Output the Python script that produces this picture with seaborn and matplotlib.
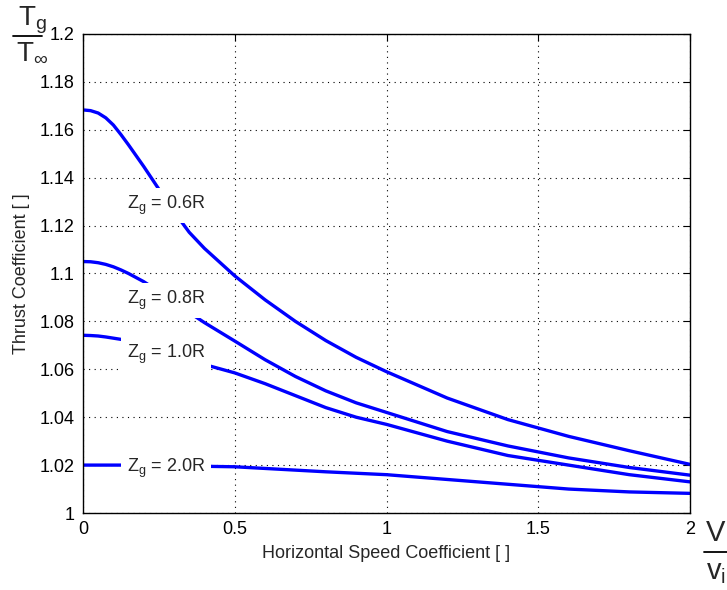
import matplotlib
matplotlib.use("Agg")
import matplotlib.pyplot as plt
import seaborn as sns
import pandas as pd
from matplotlib.lines import Line2D
from matplotlib.ticker import FuncFormatter, MultipleLocator

# ---- data ----
speed = [0, 0.025, 0.05, 0.075, 0.1, 0.125, 0.15, 0.2, 0.25, 0.3, 0.35, 0.4,
         0.5, 0.6, 0.7, 0.8, 0.9, 1.0, 1.2, 1.4, 1.6, 1.8, 2.0]
zg_06 = [1.1683, 1.1680, 1.1670, 1.1650, 1.1620, 1.1580, 1.1537, 1.1447, 1.1352,
         1.1258, 1.1172, 1.1105, 1.0990, 1.0890, 1.0800, 1.0720, 1.0650, 1.0590,
         1.0480, 1.0390, 1.0320, 1.0260, 1.0203]
zg_08 = [1.1050, 1.1049, 1.1045, 1.1038, 1.1028, 1.1015, 1.1000, 1.0966, 1.0925,
         1.0880, 1.0837, 1.0795, 1.0718, 1.0640, 1.0570, 1.0510, 1.0460, 1.0420,
         1.0340, 1.0280, 1.0230, 1.0190, 1.0158]
zg_10 = [1.0742, 1.0741, 1.0739, 1.0735, 1.0730, 1.0725, 1.0720, 1.0700, 1.0680,
         1.0660, 1.0640, 1.0620, 1.0585, 1.0540, 1.0490, 1.0440, 1.0400, 1.0370,
         1.0300, 1.0240, 1.0200, 1.0160, 1.0130]
zg_20 = [1.0200, 1.0200, 1.0200, 1.0200, 1.0200, 1.0200, 1.0200, 1.0199, 1.0198,
         1.0197, 1.0196, 1.0195, 1.0193, 1.0186, 1.0179, 1.0172, 1.0166, 1.0160,
         1.0140, 1.0120, 1.0100, 1.0088, 1.0082]
series_names = ["0.6R", "0.8R", "1.0R", "2.0R"]
label_x = [0.145, 0.145, 0.145, 0.145]
label_y = [1.1269, 1.0873, 1.0647, 1.0171]

rows = []
for name, vals in zip(series_names, [zg_06, zg_08, zg_10, zg_20]):
    for x, y in zip(speed, vals):
        rows.append({"speed": x, "thrust": y, "height": name})
df = pd.DataFrame(rows)

sns.set_style("white")
plt.rcParams["font.family"] = ["Liberation Sans", "DejaVu Sans"]
plt.rcParams["mathtext.default"] = "regular"

fig = plt.figure(figsize=(7.27, 5.9), dpi=100)
ax = fig.add_axes([83 / 727, 1 - 513 / 590, (690 - 83) / 727, (513 - 34) / 590])

sns.lineplot(data=df, x="speed", y="thrust", hue="height",
             palette=["#0000ff"] * 4, linewidth=2.4, legend=False, ax=ax,
             zorder=2)

for name, lx, ly in zip(series_names, label_x, label_y):
    ax.text(lx, ly, "Z$_g$ = " + name, fontsize=13, ha="left", va="baseline",
            zorder=5,
            bbox=dict(facecolor="white", edgecolor="none", pad=4))

ax.set_xlim(0, 2)
ax.set_ylim(1.0, 1.2)
ax.xaxis.set_major_locator(MultipleLocator(0.5))
ax.yaxis.set_major_locator(MultipleLocator(0.02))
fmt = FuncFormatter(lambda v, p: "%g" % round(v, 4))
ax.xaxis.set_major_formatter(fmt)
ax.yaxis.set_major_formatter(fmt)
ax.grid(True, color="black", linestyle=(0, (1, 4)), linewidth=0.8)
ax.tick_params(direction="in", top=True, right=True, length=5, width=0.8,
               labelsize=13, colors="black", pad=6)
for s in ax.spines.values():
    s.set_color("black")
    s.set_linewidth(1.0)
ax.set_xlabel("Horizontal Speed Coefficient [ ]", fontsize=13, labelpad=5)
ax.set_ylabel("Thrust Coefficient [ ]", fontsize=13, labelpad=7)

# fraction labels
fig.text(32 / 727, 1 - 20 / 590, "T$_g$", fontsize=20, ha="center", va="center")
fig.add_artist(Line2D([13 / 727, 42 / 727], [1 - 36 / 590, 1 - 36 / 590],
                      color="black", linewidth=1.3))
fig.text(32 / 727, 1 - 52 / 590, "T$_\u221e$", fontsize=20, ha="center", va="center")

fig.text(716 / 727, 1 - 533 / 590, "V", fontsize=21, ha="center", va="center")
fig.add_artist(Line2D([704 / 727, 727 / 727], [1 - 552 / 590, 1 - 552 / 590],
                      color="black", linewidth=1.3))
fig.text(716 / 727, 1 - 572 / 590, "v$_i$", fontsize=21, ha="center", va="center")

fig.savefig("out.png", dpi=100)
